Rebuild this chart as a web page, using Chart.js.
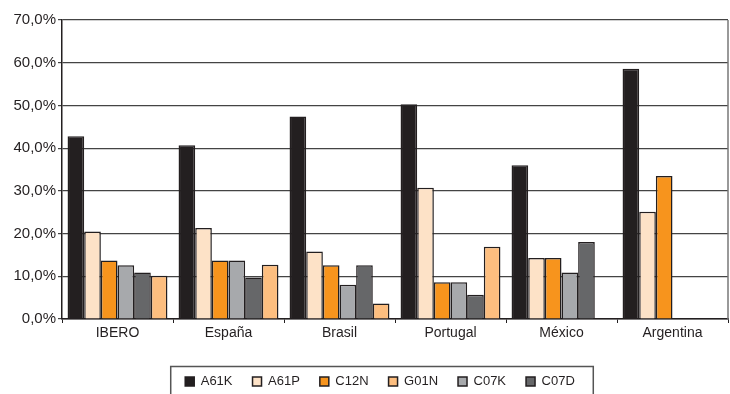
<!DOCTYPE html>
<html>
<head>
<meta charset="utf-8">
<script src="https://cdn.jsdelivr.net/npm/chart.js@4"></script>
<style>
  html,body{margin:0;padding:0;background:#fff}
  #wrap{width:730px;height:394px;position:relative}
</style>
</head>
<body>
<div id="wrap"><canvas id="ch"></canvas></div>
<script>
// categories + series (values in %)
const categorias = ['IBERO','España','Brasil','Portugal','México','Argentina'];
const A61K = [42.8, 40.7, 47.4, 50.3, 36.0, 58.6];
const A61P = [20.5, 21.3, 15.8, 30.7, 14.3, 25.1];
const C12N = [13.7, 13.7, 12.6, 8.6, 14.3, 33.5];
const C07K = [12.6, 13.7, 8.0, 8.6, 10.9, null];
const C07D = [10.9, 9.7, 12.6, 5.7, 18.0, null];
const G01N = [10.1, 12.7, 3.6, 16.9, null, null];
const ordenLeyenda = ['A61K','A61P','C12N','G01N','C07K','C07D'];

const C = {
  A61K:'#231f20', A61P:'#fde2c7', C12N:'#f7941d',
  G01N:'#fdbe7f', C07K:'#a7a9ac', C07D:'#666769'
};
const borde = '#231f20';

const ds = (label, data) => ({
  label, data,
  backgroundColor: C[label],
  borderColor: borde,
  borderWidth: 1.5,
  borderSkipped: 'bottom',
  barPercentage: 1,
  categoryPercentage: 0.9
});

// leyenda corrida a la derecha, con marco; borde derecho del área
const extras = {
  id:'extras',
  afterLayout(chart){
    const lg = chart.legend;
    lg.left += 16; lg.right += 16;
    (lg.legendHitBoxes||[]).forEach(h=>{ h.left += 16; });
  },
  afterDraw(chart){
    const ctx = chart.ctx, a = chart.chartArea;
    ctx.save();
    ctx.strokeStyle = '#777';
    ctx.lineWidth = 1.5;
    ctx.beginPath();
    ctx.moveTo(a.right, a.top); ctx.lineTo(a.right, a.bottom);
    ctx.stroke();
    const hb = chart.legend.legendHitBoxes;
    if(hb && hb.length){
      const l = Math.min(...hb.map(h=>h.left)) - 15;
      const r = Math.max(...hb.map(h=>h.left+h.width)) + 18;
      const t = hb[0].top - 9;
      ctx.strokeStyle = '#555';
      ctx.lineWidth = 1.5;
      ctx.strokeRect(l+0.5, t+0.5, r-l, 40);
    }
    ctx.restore();
  }
};

new Chart(document.getElementById('ch'), {
  type:'bar',
  data:{
    labels: categorias,
    datasets:[
      ds('A61K',A61K), ds('A61P',A61P), ds('C12N',C12N),
      ds('C07K',C07K), ds('C07D',C07D), ds('G01N',G01N)
    ]
  },
  options:{
    responsive:true, maintainAspectRatio:false, animation:false,
    layout:{padding:{top:20,right:2,left:0,bottom:-4}},
    plugins:{
      legend:{
        position:'bottom',
        labels:{
          boxWidth:9, boxHeight:9, padding:20,
          color:'#231f20',
          font:{family:'Liberation Sans', size:13},
          sort:(a,b)=>ordenLeyenda.indexOf(a.text)-ordenLeyenda.indexOf(b.text)
        }
      },
      tooltip:{enabled:false}
    },
    scales:{
      x:{
        grid:{drawOnChartArea:false, color:'#231f20', tickLength:4},
        border:{color:'#231f20', width:1.5},
        ticks:{color:'#231f20', padding:2, font:{family:'Liberation Sans', size:14}},
        afterFit(s){ s.height = 36; }
      },
      y:{
        min:0, max:70,
        grid:{color:'#444', lineWidth:1.2, tickLength:4},
        border:{color:'#231f20', width:1.5},
        ticks:{
          stepSize:10, color:'#231f20', padding:2,
          font:{family:'Liberation Sans', size:15},
          callback:v=>v.toFixed(1).replace('.',',')+'%'
        },
        afterFit(s){ s.width = 62; }
      }
    }
  },
  plugins:[extras]
});
</script>
</body>
</html>
